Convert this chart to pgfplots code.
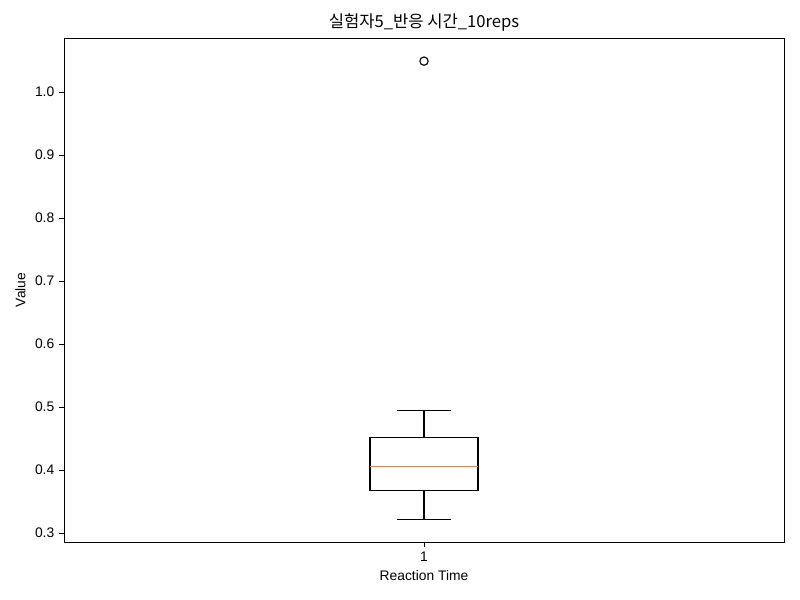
\documentclass[border=0pt]{standalone}
\usepackage{pgfplots}
\pgfplotsset{compat=1.18}
\usepgfplotslibrary{statistics}
\usepackage{fontspec}
\setmainfont{Liberation Sans}
\newfontfamily\cjk{Noto Sans CJK KR}
\begin{document}
\begin{tikzpicture}
\path[use as bounding box] (0,0) rectangle (8in,6in);
\begin{axis}[
  at={(0.64in,0.58in)}, anchor=south west,
  scale only axis, width=7.2in, height=5.04in,
  xmin=0.5, xmax=1.5, ymin=0.2857, ymax=1.0857,
  xtick={1}, xticklabels={1},
  ytick={0.3,0.4,0.5,0.6,0.7,0.8,0.9,1.0},
  yticklabel style={/pgf/number format/.cd,fixed,fixed zerofill,precision=1},
  /pgf/number format/assume math mode=true,
  tick align=outside, tick pos=left,
  major tick length=3.5pt,
  every tick/.style={black, line width=0.6pt},
  axis line style={line width=0.6pt},
  tick label style={font=\fontsize{10}{12}\selectfont},
  xlabel={Reaction Time}, ylabel={Value},
  label style={font=\fontsize{10}{12}\selectfont},
  title={\cjk 실험자5\_반응 시간\_10reps},
  title style={font=\fontsize{12}{14}\selectfont, yshift=-5pt},
  boxplot/draw direction=y,
  boxplot/box extend=0.15,
  boxplot/whisker extend=0.075,
]
\addplot+[
  black, line width=0.8pt, solid,
  mark=o, mark size=3pt, mark options={black, line width=0.8pt},
  boxplot prepared={
    draw position=1,
    lower whisker=0.322, lower quartile=0.368, median=0.406,
    upper quartile=0.451, upper whisker=0.494,
    every median/.style={draw={rgb,255:red,255;green,127;blue,14}, line width=1pt},
  },
] coordinates {(0,1.049)};
\end{axis}
\end{tikzpicture}
\end{document}
